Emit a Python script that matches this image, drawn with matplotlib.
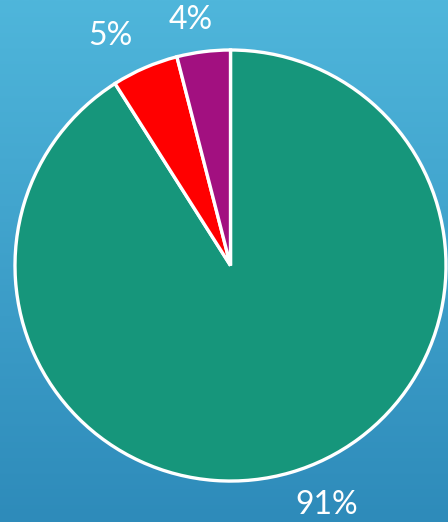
import numpy as np
import matplotlib.pyplot as plt
from matplotlib.colors import LinearSegmentedColormap

# data (clockwise from 12 o'clock)
shares = [91, 5, 4]
labels = ["91%", "5%", "4%"]
colors = ["#16967B", "#FF0000", "#A21080"]
# where the labels sit, in pie units (radius = 1)
label_pos = [(0.445, -1.109), (-0.557, 1.065), (-0.183, 1.139)]

fig = plt.figure(figsize=(4.48, 5.22), dpi=100)
ax = fig.add_axes([0, 0, 1, 1])
xlim = (-1.0696, 1.0093)
ylim = (-1.190, 1.232)

# gradient background
bg = LinearSegmentedColormap.from_list("bg", ["#2E8BBA", "#4FB6DB"])
grad = np.linspace(0, 1, 256).reshape(-1, 1)
ax.imshow(grad, cmap=bg, origin="lower", aspect="auto",
          extent=(xlim[0], xlim[1], ylim[0], ylim[1]), zorder=0)

wedges, texts = ax.pie(shares, colors=colors, startangle=90, counterclock=False,
                       radius=1, labels=labels, labeldistance=1.2,
                       wedgeprops=dict(edgecolor="white", linewidth=2.4))
for t, (x, y) in zip(texts, label_pos):
    t.set_position((x, y))
    t.set_ha("center")
    t.set_va("center")
    t.set_color("white")
    t.set_fontsize(23)
    t.set_fontfamily(["Lato", "DejaVu Sans"])
    t.set_fontweight("normal")

ax.set_xlim(*xlim)
ax.set_ylim(*ylim)
ax.set_aspect("auto")
ax.axis("off")

fig.savefig("out.png", dpi=100)
